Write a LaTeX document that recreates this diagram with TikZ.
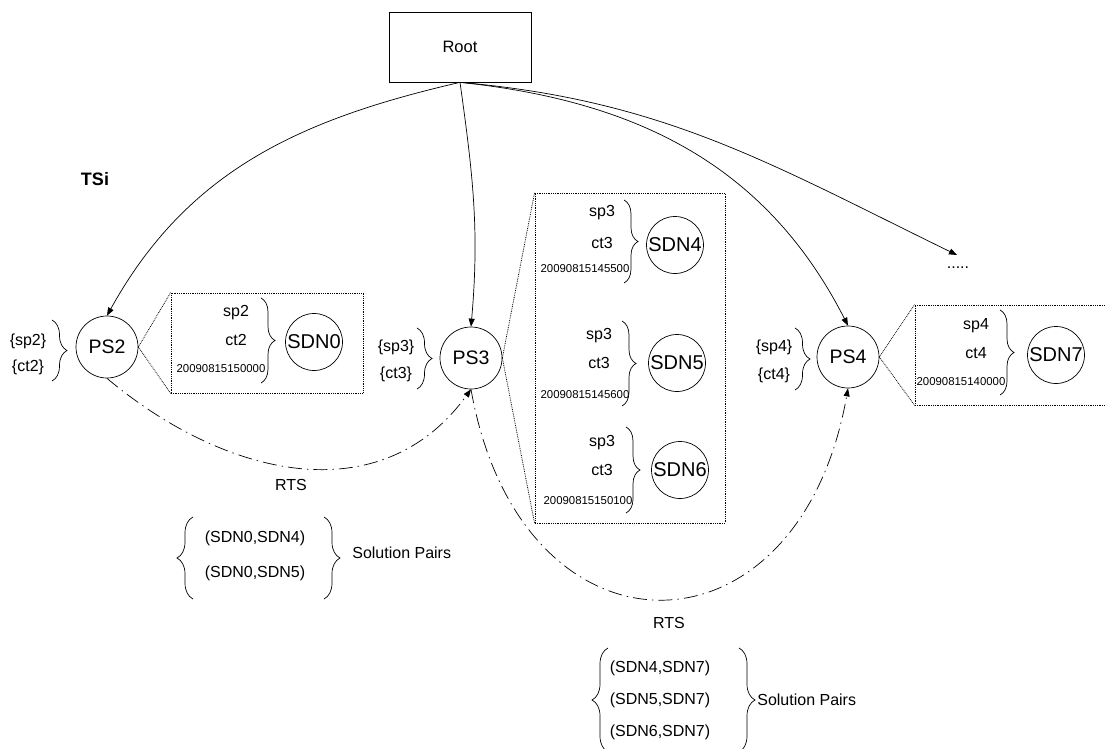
\documentclass[tikz,border=0pt]{standalone}
\usepackage{fontspec}
\setmainfont{Liberation Sans}
\usetikzlibrary{arrows.meta,decorations.pathreplacing}
\tikzset{
  ps/.style={draw,circle,minimum size=62pt,inner sep=0pt,font=\fontsize{19.5}{21}\selectfont},
  sdn/.style={draw,circle,minimum size=57pt,inner sep=0pt,font=\fontsize{20}{22}\selectfont},
  txt/.style={inner sep=0pt,font=\fontsize{16}{18}\selectfont},
  stamp/.style={inner sep=0pt,font=\fontsize{11.4}{13}\selectfont},
  zbox/.style={draw,densely dotted,line width=.8pt,inner sep=0pt},
  zline/.style={densely dotted,line width=.8pt},
  link/.style={-{Triangle[length=8pt,width=6pt]}},
  rts/.style={link,dash pattern=on 14pt off 5pt on 1.5pt off 5pt},
  brc/.style={decorate,decoration={brace,amplitude=#1}},
}
\begin{document}
\begin{tikzpicture}[x=1pt,y=1pt,line width=.7pt]
\useasboundingbox (0,0) rectangle (1106,-749);

\node[draw,minimum width=142pt,minimum height=70pt,font=\fontsize{16.5}{18}\selectfont] (root) at (460,-47) {Root};
\node[font=\bfseries\fontsize{18}{20}\selectfont] (tsi) at (95,-179) {TSi};

\node[ps] (ps2) at (107,-347) {PS2};
\node[ps] (ps3) at (471,-358) {PS3};
\node[ps] (ps4) at (848,-357) {PS4};
\coordinate (more) at (957,-255);
\node[txt] (dots) at (958,-268) {.....};

\node[txt] (sp2)  at (28,-341) {\{sp2\}};
\node[txt] (ct2)  at (28,-367) {\{ct2\}};
\node[txt] (sp3)  at (396,-347) {\{sp3\}};
\node[txt] (ct3)  at (396,-374) {\{ct3\}};
\node[txt] (sp4)  at (774,-347) {\{sp4\}};
\node[txt] (ct4)  at (774,-375) {\{ct4\}};
\draw[brc=15] (52,-320) -- (52,-381);
\draw[brc=15] (417,-328) -- (417,-389);
\draw[brc=15] (795,-328) -- (795,-390);

\node[zbox,minimum width=192pt,minimum height=100pt] (box0) at (267,-343) {};
\node[txt]   (box0sp) at (236,-313) {sp2};
\node[txt]   (box0ct) at (236,-340) {ct2};
\node[stamp] (box0ts) at (221,-369) {20090815150000};
\draw[brc=14] (261,-298) -- (261,-383);
\node[sdn] (sdn0) at (314,-342) {SDN0};

\node[zbox,minimum width=190pt,minimum height=330pt] (box3) at (630,-358) {};
\node[txt]   (box4sp) at (602,-213) {sp3};
\node[txt]   (box4ct) at (602,-243) {ct3};
\node[stamp] (box4ts) at (585,-269) {20090815145500};
\draw[brc=14] (624,-200) -- (624,-283);
\node[sdn] (sdn4) at (675,-245) {SDN4};
\node[txt]   (box5sp) at (599,-336) {sp3};
\node[txt]   (box5ct) at (599,-363) {ct3};
\node[stamp] (box5ts) at (585,-395) {20090815145600};
\draw[brc=14] (622,-321) -- (622,-406);
\node[sdn] (sdn5) at (677,-363) {SDN5};
\node[txt]   (box6sp) at (602,-443) {sp3};
\node[txt]   (box6ct) at (602,-470) {ct3};
\node[stamp] (box6ts) at (588,-501) {20090815150100};
\draw[brc=14] (626,-427) -- (626,-513);
\node[sdn] (sdn6) at (680,-470) {SDN6};

\node[zbox,minimum width=197pt,minimum height=100pt] (box7) at (1013.5,-355) {};
\node[txt]   (box7sp) at (976,-326) {sp4};
\node[txt]   (box7ct) at (976,-353) {ct4};
\node[stamp] (box7ts) at (961,-382) {20090815140000};
\draw[brc=14] (1000,-310) -- (1000,-395);
\node[sdn] (sdn7) at (1056,-355) {SDN7};

\draw[zline] (ps2.east) -- (box0.north west);
\draw[zline] (ps2.east) -- (box0.south west);
\draw[zline] (ps3.east) -- (box3.north west);
\draw[zline] (ps3.east) -- (box3.south west);
\draw[zline] (ps4.east) -- (box7.north west);
\draw[zline] (ps4.east) -- (box7.south west);

\draw[link] (root.south) to[out=193,in=61] (ps2.north);
\draw[link] (root.south) to[out=-82,in=85] (ps3.north);
\draw[link] (root.south) to[out=-6,in=117] (ps4.north);
\draw[link] (root.south) to[out=-5,in=154] (more);

\draw[rts] (ps2.south) to[out=-40,in=-126,looseness=1.08] (ps3.south);
\draw[rts] (ps3.south) to[out=-80,in=-100,looseness=1.93] (ps4.south);
\node[txt] (rts1) at (291,-485) {RTS};
\node[txt] (rts2) at (669,-623) {RTS};

\node[txt] (pair04) at (255,-538) {(SDN0,SDN4)};
\node[txt] (pair05) at (255,-573) {(SDN0,SDN5)};
\draw[brc=16] (193,-599) -- (193,-517);
\draw[brc=16] (324,-517) -- (324,-599);
\node[txt,anchor=west] (pairs1) at (352,-553) {Solution Pairs};

\node[txt] (pair47) at (660,-668) {(SDN4,SDN7)};
\node[txt] (pair57) at (660,-700) {(SDN5,SDN7)};
\node[txt] (pair67) at (660,-732) {(SDN6,SDN7)};
\draw[brc=16] (608,-752) -- (608,-648);
\draw[brc=16] (739,-648) -- (739,-752);
\node[txt,anchor=west] (pairs2) at (757,-700) {Solution Pairs};
\end{tikzpicture}
\end{document}
